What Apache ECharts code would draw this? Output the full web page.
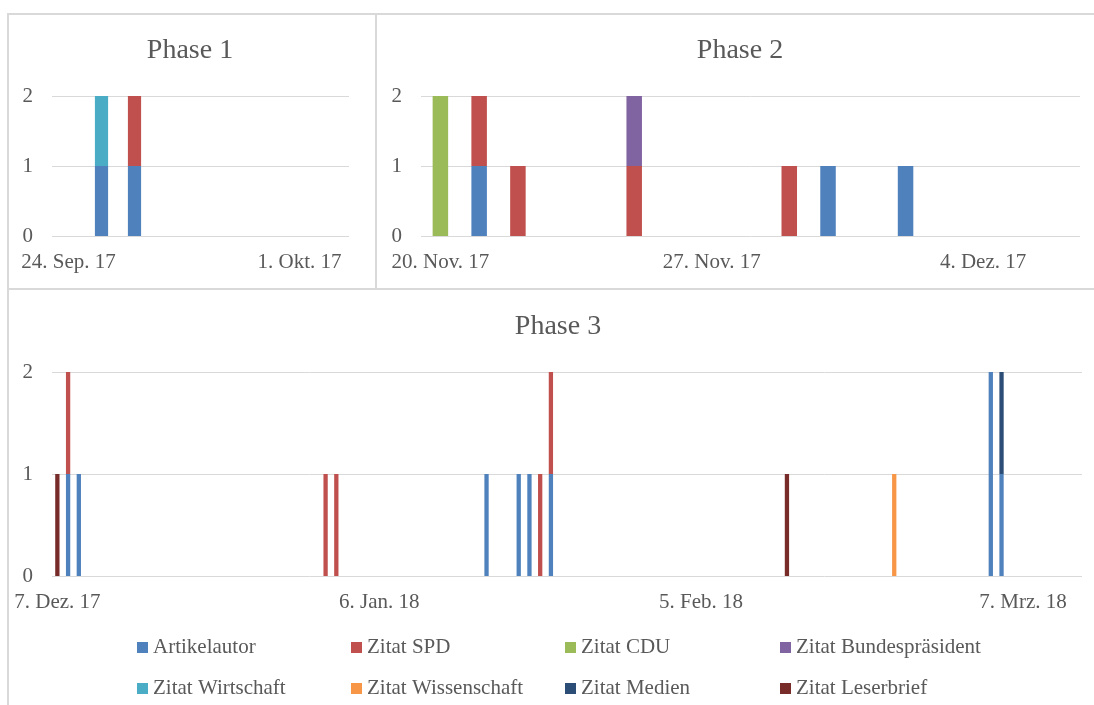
<!DOCTYPE html>
<html>
<head>
<meta charset="utf-8">
<script src="https://cdn.jsdelivr.net/npm/echarts@6/dist/echarts.min.js"></script>
<style>
html,body{margin:0;padding:0;background:#fff;}
#chart{width:1094px;height:705px;}
</style>
</head>
<body>
<div id="chart"></div>
<script>
// ---- Data ----
const seriesNames = ['Artikelautor','Zitat SPD','Zitat CDU','Zitat Bundespräsident','Zitat Wirtschaft','Zitat Wissenschaft','Zitat Medien','Zitat Leserbrief'];
const seriesColors = ['#4F81BD','#C0504D','#9BBB59','#8064A2','#4BACC6','#F79646','#2C4D75','#772C2A'];

const artikelautor = [['2017-09-25',1],['2017-09-26',1],['2017-11-21',1],['2017-11-30',1],['2017-12-02',1],['2017-12-08',1],['2017-12-09',1],['2018-01-16',1],['2018-01-19',1],['2018-01-20',1],['2018-01-22',1],['2018-03-04',2],['2018-03-05',1]];
const zitatSPD = [['2017-09-26',1],['2017-11-21',1],['2017-11-22',1],['2017-11-25',1],['2017-11-29',1],['2017-12-08',1],['2018-01-01',1],['2018-01-02',1],['2018-01-21',1],['2018-01-22',1]];
const zitatCDU = [['2017-11-20',2]];
const zitatBundespraesident = [['2017-11-25',1]];
const zitatWirtschaft = [['2017-09-25',1]];
const zitatWissenschaft = [['2018-02-23',1]];
const zitatMedien = [['2018-03-05',1]];
const zitatLeserbrief = [['2017-12-07',1],['2018-02-13',1]];
const seriesData = [artikelautor, zitatSPD, zitatCDU, zitatBundespraesident, zitatWirtschaft, zitatWissenschaft, zitatMedien, zitatLeserbrief];

const phaseTitles = ['Phase 1','Phase 2','Phase 3'];
const phaseStart = ['2017-09-24','2017-11-20','2017-12-07'];
const phaseEnd = ['2017-10-02','2017-12-06','2018-03-12'];
const tickDates = [['2017-09-24','2017-10-01'],['2017-11-20','2017-11-27','2017-12-04'],['2017-12-07','2018-01-06','2018-02-05','2018-03-07']];
const tickLabels = [['24. Sep. 17','1. Okt. 17'],['20. Nov. 17','27. Nov. 17','4. Dez. 17'],['7. Dez. 17','6. Jan. 18','5. Feb. 18','7. Mrz. 18']];
const yTicks = [0,1,2];

// ---- Build ----
const DAY = 86400000;
const iso = t => new Date(t).toISOString().slice(0, 10);
// daily date axis (like a date axis with base unit "days")
const dayRange = (a, b) => {
  const out = [];
  for (let t = Date.parse(a + 'T00:00:00Z'); t <= Date.parse(b + 'T00:00:00Z'); t += DAY) out.push(iso(t));
  return out;
};
const FONT = "'Liberation Serif', 'Times New Roman', serif";
const TXT = '#595959';
const GRIDC = '#d9d9d9';

const grids = [
  {left:52, top:96, width:297, height:140},
  {left:421, top:96, width:659, height:140},
  {left:52, top:372, width:1030, height:204}
];
const titlePos = [[190,51],[740,51],[558,327]];

const xAxes = [], yAxes = [], series = [];
grids.forEach((g, i) => {
  const cats = dayRange(phaseStart[i], phaseEnd[i]);
  const labelMap = {};
  tickDates[i].forEach((d, k) => { labelMap[d] = tickLabels[i][k]; });
  xAxes.push({
    type:'category', gridIndex:i, data: cats, boundaryGap:true,
    axisLine:{show:false}, axisTick:{show:false}, splitLine:{show:false},
    axisLabel:{
      interval: (idx, val) => labelMap[val] !== undefined,
      formatter: v => labelMap[v] || '',
      fontFamily: FONT, fontSize: 21, color: TXT, margin: 16
    }
  });
  yAxes.push({
    type:'value', gridIndex:i, min: yTicks[0], max: yTicks[yTicks.length-1], interval: 1,
    axisLine:{show:false}, axisTick:{show:false},
    splitLine:{show:true, lineStyle:{color:GRIDC, width:1}},
    axisLabel:{fontFamily: FONT, fontSize: 21, color: TXT, margin: 19}
  });
  seriesNames.forEach((name, s) => {
    const lookup = {};
    seriesData[s].forEach(p => { lookup[p[0]] = p[1]; });
    series.push({
      name, type:'bar', xAxisIndex:i, yAxisIndex:i, stack:'phase' + i,
      barWidth:'40%',
      data: cats.map(d => lookup[d] || 0),
      itemStyle:{color: seriesColors[s]},
      emphasis:{disabled:true}
    });
  });
});

const legendLeft = [137, 351, 565, 780];
const legendTop = [637, 678];
const legends = seriesNames.map((name, s) => ({
  data:[name], left: legendLeft[s % 4], top: legendTop[Math.floor(s / 4)],
  icon:'rect', itemWidth:11, itemHeight:11, padding:0, itemGap:0,
  textStyle:{fontFamily: FONT, fontSize: 21, color: TXT}
}));

const graphics = [
  {type:'rect', shape:{x:8, y:14, width:368, height:275}, style:{fill:'none', stroke:GRIDC, lineWidth:2}, silent:true},
  {type:'rect', shape:{x:376, y:14, width:740, height:275}, style:{fill:'none', stroke:GRIDC, lineWidth:2}, silent:true},
  {type:'rect', shape:{x:8, y:289, width:1100, height:440}, style:{fill:'none', stroke:GRIDC, lineWidth:2}, silent:true}
];
phaseTitles.forEach((t, i) => {
  graphics.push({type:'text', x:titlePos[i][0], y:titlePos[i][1], silent:true,
    style:{text:t, align:'center', verticalAlign:'middle', fontFamily: FONT, fontSize: 28, fill: TXT}});
});

const chart = echarts.init(document.getElementById('chart'), null, {renderer:'canvas'});
chart.setOption({
  animation:false,
  backgroundColor:'#ffffff',
  grid: grids,
  xAxis: xAxes,
  yAxis: yAxes,
  legend: legends,
  graphic: graphics,
  series
});
</script>
</body>
</html>
